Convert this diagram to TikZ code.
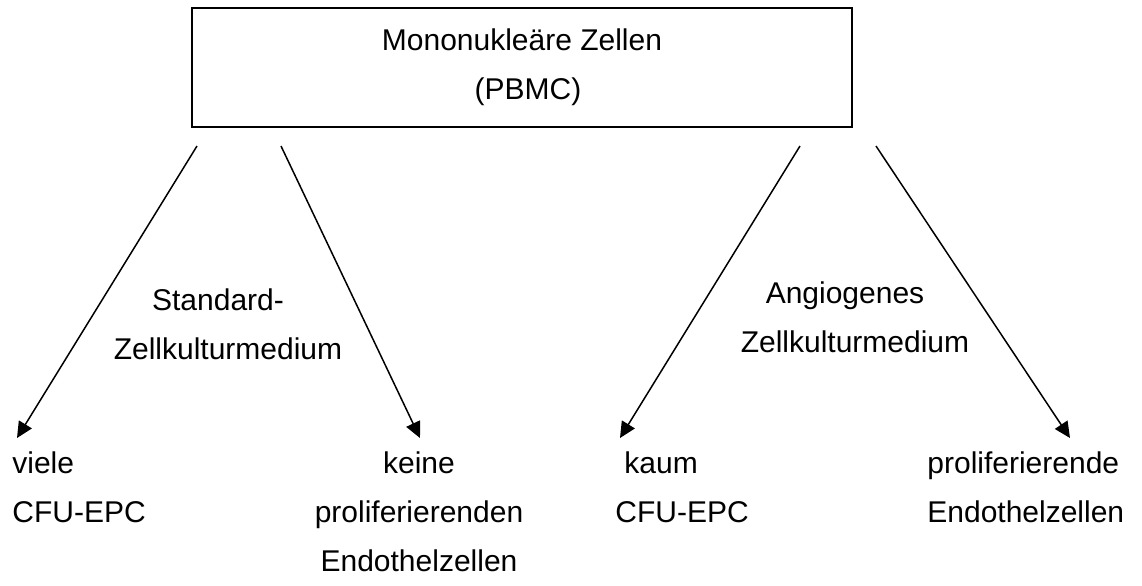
\documentclass[tikz,border=0pt]{standalone}
\usepackage{fontspec}
\setmainfont{Liberation Sans}
\usetikzlibrary{arrows.meta,positioning}

\tikzset{
	lbl/.style={inner sep=0pt, font=\fontsize{15}{24.5}\selectfont},
	zbox/.style={draw, line width=0.8pt, minimum width=330pt, minimum height=59.5pt,
		align=center, inner sep=0pt, font=\fontsize{15}{24.5}\selectfont},
	arr/.style={-{Triangle[length=8pt,width=7.5pt]}, line width=0.75pt}
}

\begin{document}
\begin{tikzpicture}[x=0.5pt, y=-0.5pt]
	\useasboundingbox (0,0) rectangle (1142,585);

	% Kasten oben
	\node[zbox] (pbmc) at (522,67.5) {Mononukleäre Zellen\\\hspace*{6pt}(PBMC)};

	% Medien
	\node[lbl, align=center, anchor=north] (std) at (218,288) {Standard-\\\hspace*{10pt}Zellkulturmedium};
	\node[lbl, align=center, anchor=north] (ang) at (845,281) {Angiogenes\\\hspace*{10pt}Zellkulturmedium};

	% Ergebnisse
	\node[lbl, align=left, anchor=north west] (viele) at (12,451) {viele\\CFU-EPC};
	\node[lbl, align=center, anchor=north] (keine) at (419,451) {keine\\proliferierenden\\Endothelzellen};
	\node[lbl, align=left, anchor=north west] (kaum) at (615,451) {\hspace*{4.5pt}kaum\\CFU-EPC};
	\node[lbl, align=left, anchor=north west] (prolif) at (927,451) {proliferierende\\Endothelzellen};

	% Pfeile
	\coordinate (s1) at (197,146);
	\coordinate (s2) at (281,146);
	\coordinate (s3) at (800,146);
	\coordinate (s4) at (876,146);
	\coordinate (t1) at (17,438);
	\coordinate (t2) at (420,438);
	\coordinate (t3) at (620,438);
	\coordinate (t4) at (1070,438);

	\draw[arr] (s1) -- (t1);
	\draw[arr] (s2) -- (t2);
	\draw[arr] (s3) -- (t3);
	\draw[arr] (s4) -- (t4);
\end{tikzpicture}
\end{document}
